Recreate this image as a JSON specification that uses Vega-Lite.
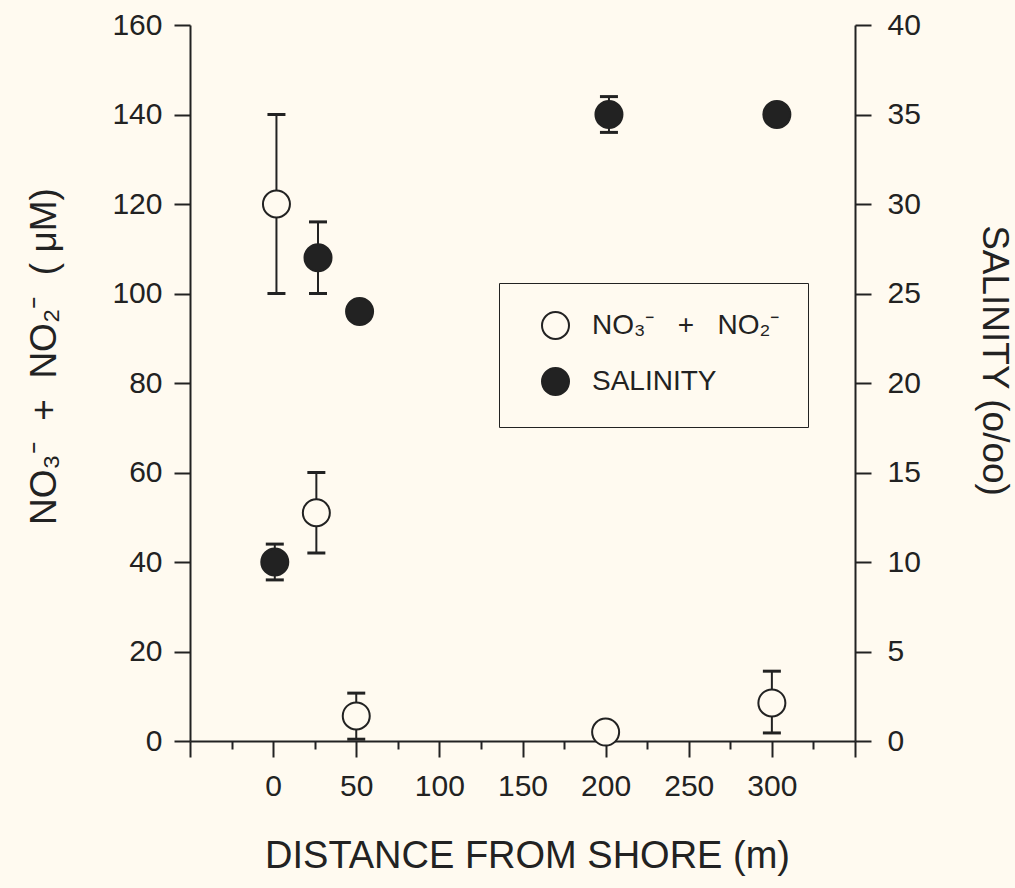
{
  "$schema": "https://vega.github.io/schema/vega-lite/v6.json",
  "width": 665,
  "height": 716,
  "autosize": "none",
  "padding": {"left": 190, "top": 25, "right": 160, "bottom": 147},
  "background": "#fffaf0",
  "config": {
    "font": "Liberation Sans",
    "view": {"stroke": null},
    "axis": {
      "grid": false,
      "labelFontSize": 30,
      "labelColor": "#222222",
      "titleFontSize": 37,
      "titleFontWeight": "normal",
      "titleColor": "#222222",
      "domainColor": "#222222",
      "domainWidth": 2,
      "tickColor": "#222222",
      "tickWidth": 2,
      "tickSize": 16
    },
    "legend": {
      "labelFontSize": 28,
      "labelColor": "#222222"
    }
  },
  "data": {
    "values": [
      {"dist": 2, "series": "NO₃⁻\u00a0\u00a0\u00a0+\u00a0\u00a0\u00a0NO₂⁻", "val": 120, "lo": 100, "hi": 140},
      {"dist": 26, "series": "NO₃⁻\u00a0\u00a0\u00a0+\u00a0\u00a0\u00a0NO₂⁻", "val": 51, "lo": 42, "hi": 60},
      {"dist": 50, "series": "NO₃⁻\u00a0\u00a0\u00a0+\u00a0\u00a0\u00a0NO₂⁻", "val": 5.6, "lo": 0.4, "hi": 10.7},
      {"dist": 200, "series": "NO₃⁻\u00a0\u00a0\u00a0+\u00a0\u00a0\u00a0NO₂⁻", "val": 2, "lo": null, "hi": null},
      {"dist": 300, "series": "NO₃⁻\u00a0\u00a0\u00a0+\u00a0\u00a0\u00a0NO₂⁻", "val": 8.5, "lo": 1.8, "hi": 15.6},
      {"dist": 1, "series": "SALINITY", "val": 10, "lo": 9, "hi": 11},
      {"dist": 27, "series": "SALINITY", "val": 27, "lo": 25, "hi": 29},
      {"dist": 52, "series": "SALINITY", "val": 24, "lo": null, "hi": null},
      {"dist": 202, "series": "SALINITY", "val": 35, "lo": 34, "hi": 36},
      {"dist": 303, "series": "SALINITY", "val": 35, "lo": null, "hi": null}
    ]
  },
  "layer": [
    {
      "transform": [{"filter": {"not": {"field": "series", "equal": "SALINITY"}}}],
      "encoding": {
        "x": {
          "field": "dist", "type": "quantitative",
          "scale": {"domain": [-50, 350], "nice": false, "zero": false},
          "axis": {
            "orient": "bottom",
            "values": [-50, 0, 50, 100, 150, 200, 250, 300, 350],
            "labelExpr": "datum.value < 0 || datum.value > 300 ? '' : datum.label",
            "labelPadding": 14,
            "title": "DISTANCE FROM SHORE (m)",
            "titleFontSize": 38,
            "titleX": 337,
            "titleY": 126,
            "titleBaseline": "alphabetic"
          }
        }
      },
      "layer": [
        {
          "mark": {"type": "rule", "color": "#222222", "strokeWidth": 2},
          "encoding": {
            "y": {"field": "lo", "type": "quantitative", "scale": {"domain": [0, 160], "nice": false}, "axis": {"values": [0, 20, 40, 60, 80, 100, 120, 140, 160], "labelPadding": 12, "title": "NO₃⁻\u00a0\u00a0+\u00a0\u00a0NO₂⁻\u00a0\u00a0(\u00a0μM)", "titleX": -135, "titleY": 331, "titleBaseline": "alphabetic"}},
            "y2": {"field": "hi"}
          }
        },
        {
          "mark": {"type": "tick", "orient": "horizontal", "size": 18, "thickness": 3, "color": "#222222", "opacity": 1},
          "encoding": {
            "y": {"field": "lo", "type": "quantitative", "scale": {"domain": [0, 160], "nice": false}, "axis": {"values": [0, 20, 40, 60, 80, 100, 120, 140, 160], "labelPadding": 12, "title": "NO₃⁻\u00a0\u00a0+\u00a0\u00a0NO₂⁻\u00a0\u00a0(\u00a0μM)", "titleX": -135, "titleY": 331, "titleBaseline": "alphabetic"}}
          }
        },
        {
          "mark": {"type": "tick", "orient": "horizontal", "size": 18, "thickness": 3, "color": "#222222", "opacity": 1},
          "encoding": {
            "y": {"field": "hi", "type": "quantitative", "scale": {"domain": [0, 160], "nice": false}, "axis": {"values": [0, 20, 40, 60, 80, 100, 120, 140, 160], "labelPadding": 12, "title": "NO₃⁻\u00a0\u00a0+\u00a0\u00a0NO₂⁻\u00a0\u00a0(\u00a0μM)", "titleX": -135, "titleY": 331, "titleBaseline": "alphabetic"}}
          }
        },
        {
          "mark": {"type": "point", "shape": "circle", "size": 729, "strokeWidth": 2, "stroke": "#222222", "filled": true, "opacity": 1},
          "encoding": {
            "y": {"field": "val", "type": "quantitative", "scale": {"domain": [0, 160], "nice": false}, "axis": {"values": [0, 20, 40, 60, 80, 100, 120, 140, 160], "labelPadding": 12, "title": "NO₃⁻\u00a0\u00a0+\u00a0\u00a0NO₂⁻\u00a0\u00a0(\u00a0μM)", "titleX": -135, "titleY": 331, "titleBaseline": "alphabetic"}},
            "fill": {
              "field": "series", "type": "nominal",
              "scale": {"domain": ["NO₃⁻\u00a0\u00a0\u00a0+\u00a0\u00a0\u00a0NO₂⁻", "SALINITY"], "range": ["#fffaf0", "#222222"]},
              "legend": {
                "orient": "none", "legendX": 309, "legendY": 258, "title": null,
                "padding": 28, "strokeColor": "#222222",
                "symbolType": "circle", "symbolSize": 729, "symbolStrokeWidth": 2, "symbolStrokeColor": "#222222",
                "symbolOffset": 14, "labelOffset": 22, "rowPadding": 21, "labelLimit": 400, "labelFontSize": 28
              }
            }
          }
        }
      ]
    },
    {
      "transform": [{"filter": {"field": "series", "equal": "SALINITY"}}],
      "encoding": {
        "x": {
          "field": "dist", "type": "quantitative",
          "scale": {"domain": [-50, 350], "nice": false, "zero": false},
          "axis": {
            "orient": "bottom",
            "values": [-25, 25, 75, 125, 175, 225, 275, 325],
            "tickSize": 8, "labels": false, "domain": false, "title": null
          }
        }
      },
      "layer": [
        {
          "mark": {"type": "rule", "color": "#222222", "strokeWidth": 2},
          "encoding": {
            "y": {"field": "lo", "type": "quantitative", "scale": {"domain": [0, 40], "nice": false}, "axis": {"orient": "right", "values": [0, 5, 10, 15, 20, 25, 30, 35, 40], "labelPadding": 16, "title": "SALINITY (o/oo)", "titleAngle": 90, "titleX": 127, "titleY": 335, "titleBaseline": "alphabetic"}},
            "y2": {"field": "hi"}
          }
        },
        {
          "mark": {"type": "tick", "orient": "horizontal", "size": 18, "thickness": 3, "color": "#222222", "opacity": 1},
          "encoding": {
            "y": {"field": "lo", "type": "quantitative", "scale": {"domain": [0, 40], "nice": false}, "axis": {"orient": "right", "values": [0, 5, 10, 15, 20, 25, 30, 35, 40], "labelPadding": 16, "title": "SALINITY (o/oo)", "titleAngle": 90, "titleX": 127, "titleY": 335, "titleBaseline": "alphabetic"}}
          }
        },
        {
          "mark": {"type": "tick", "orient": "horizontal", "size": 18, "thickness": 3, "color": "#222222", "opacity": 1},
          "encoding": {
            "y": {"field": "hi", "type": "quantitative", "scale": {"domain": [0, 40], "nice": false}, "axis": {"orient": "right", "values": [0, 5, 10, 15, 20, 25, 30, 35, 40], "labelPadding": 16, "title": "SALINITY (o/oo)", "titleAngle": 90, "titleX": 127, "titleY": 335, "titleBaseline": "alphabetic"}}
          }
        },
        {
          "mark": {"type": "point", "shape": "circle", "size": 729, "strokeWidth": 2, "stroke": "#222222", "filled": true, "opacity": 1},
          "encoding": {
            "y": {"field": "val", "type": "quantitative", "scale": {"domain": [0, 40], "nice": false}, "axis": {"orient": "right", "values": [0, 5, 10, 15, 20, 25, 30, 35, 40], "labelPadding": 16, "title": "SALINITY (o/oo)", "titleAngle": 90, "titleX": 127, "titleY": 335, "titleBaseline": "alphabetic"}},
            "fill": {
              "field": "series", "type": "nominal",
              "scale": {"domain": ["NO₃⁻\u00a0\u00a0\u00a0+\u00a0\u00a0\u00a0NO₂⁻", "SALINITY"], "range": ["#fffaf0", "#222222"]},
              "legend": {
                "orient": "none", "legendX": 309, "legendY": 258, "title": null,
                "padding": 28, "strokeColor": "#222222",
                "symbolType": "circle", "symbolSize": 729, "symbolStrokeWidth": 2, "symbolStrokeColor": "#222222",
                "symbolOffset": 14, "labelOffset": 22, "rowPadding": 21, "labelLimit": 400, "labelFontSize": 28
              }
            }
          }
        }
      ]
    }
  ],
  "resolve": {"scale": {"y": "independent"}, "axis": {"x": "independent", "y": "independent"}}
}
